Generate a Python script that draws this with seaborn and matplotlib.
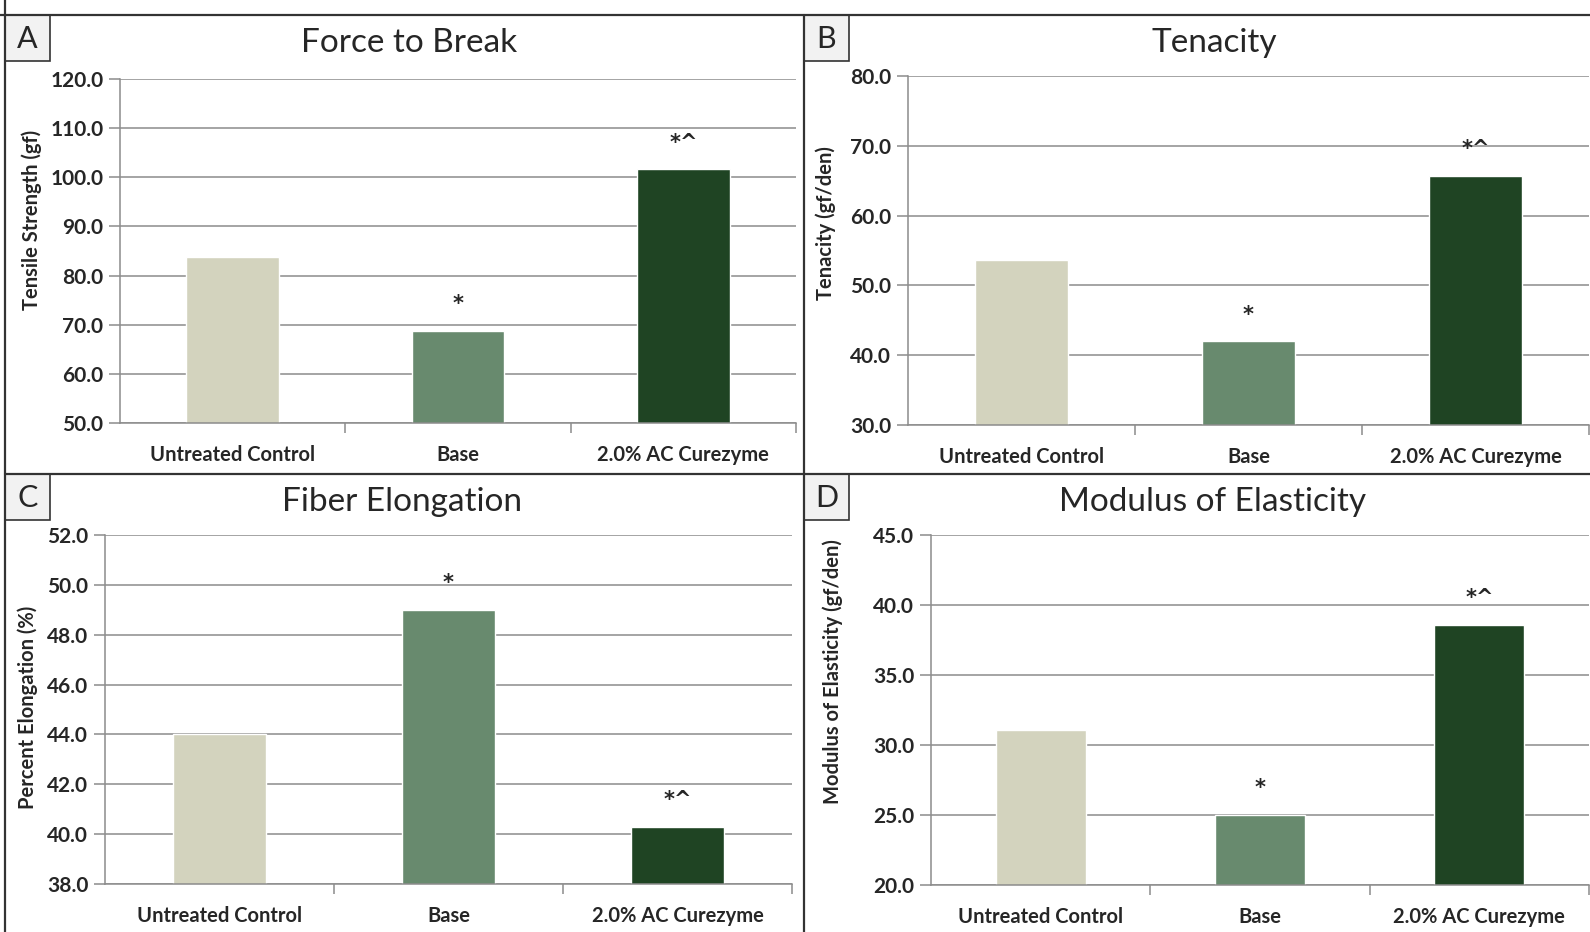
import matplotlib
matplotlib.use("Agg")
import matplotlib.pyplot as plt
import seaborn as sns
import pandas as pd
from matplotlib.lines import Line2D
from matplotlib.patches import Rectangle

# Data
categories = ["Untreated Control", "Base", "2.0% AC Curezyme"]
force_to_break = [83.8, 68.8, 101.6]
tenacity = [53.6, 42.0, 65.7]
elongation = [44.0, 49.0, 40.3]
modulus = [31.1, 25.0, 38.6]
marks = ["", "*", "*^"]
colors = ["#D3D3BE", "#688A6E", "#1F4423"]

sns.set_theme(style="white")
plt.rcParams['font.family'] = ['Lato', 'DejaVu Sans']

W, H = 1590, 932
fig = plt.figure(figsize=(W / 100, H / 100), dpi=100)


def px(x0, y0, x1, y1):
    return [x0 / W, 1 - y1 / H, (x1 - x0) / W, (y1 - y0) / H]


panels = [
    ("A", "Force to Break", "Tensile Strength (gf)", force_to_break, (50, 120, 10),
     px(120, 79, 796, 423), (409, 43), (5, 15), (-0.116, 0.59)),
    ("B", "Tenacity", "Tenacity (gf/den)", tenacity, (30, 80, 10),
     px(908, 76, 1589, 425), (1214, 43), (804, 15), (-0.106, 0.578)),
    ("C", "Fiber Elongation", "Percent Elongation (%)", elongation, (38, 52, 2),
     px(105, 535, 792, 884), (402, 502), (5, 474), (-0.097, 0.506)),
    ("D", "Modulus of Elasticity", "Modulus of Elasticity (gf/den)", modulus, (20, 45, 5),
     px(931, 535, 1589, 885), (1213, 502), (804, 474), (-0.133, 0.61)),
]

for letter, title, ylabel, vals, (lo, hi, step), rect, tpos, bpos, lpos in panels:
    ax = fig.add_axes(rect)
    df = pd.DataFrame({"cat": categories, "val": vals})
    sns.barplot(data=df, x="cat", y="val", hue="cat", palette=colors,
                legend=False, width=0.41, ax=ax, saturation=1)
    ax.set_ylim(lo, hi)
    ax.set_xlim(-0.5, 2.5)
    yt = [lo + step * i for i in range(int(round((hi - lo) / step)) + 1)]
    ax.set_yticks(yt)
    ax.set_yticklabels([f"{v:.1f}" for v in yt], fontsize=15, fontweight="bold")
    ax.yaxis.grid(True, color="#8C8C8C", linewidth=1.1)
    ax.set_axisbelow(True)
    ax.tick_params(axis="y", length=8, color="#8C8C8C", width=1.1, left=True, pad=4)
    ax.set_xticks([0, 1, 2])
    ax.set_xticklabels(categories, fontsize=14.5, fontweight="bold")
    ax.set_xticks([0.5, 1.5, 2.5], minor=True)
    ax.tick_params(axis="x", which="major", length=0, pad=16)
    ax.tick_params(axis="x", which="minor", length=7, color="#8C8C8C", width=1.1, bottom=True)
    ax.set_xlabel("")
    ax.set_ylabel(ylabel, fontsize=14.5, fontweight="bold")
    ax.yaxis.set_label_coords(*lpos)
    for s in ["top", "right"]:
        ax.spines[s].set_visible(False)
    for s in ["left", "bottom"]:
        ax.spines[s].set_color("#8C8C8C")
        ax.spines[s].set_linewidth(1.1)
    for i, (v, m) in enumerate(zip(vals, marks)):
        if m:
            ax.annotate(m, xy=(i, v), xytext=(0, 12), textcoords="offset points",
                        ha="center", va="bottom", fontsize=15, fontweight="bold",
                        family="DejaVu Sans")
    fig.text(tpos[0] / W, 1 - tpos[1] / H, title, ha="center", va="center", fontsize=24)
    bx, by = bpos
    fig.add_artist(Rectangle((bx / W, 1 - (by + 46) / H), 45 / W, 46 / H,
                             transform=fig.transFigure, facecolor="#F2F2F2",
                             edgecolor="#333333", linewidth=1.2))
    fig.text((bx + 22.5) / W, 1 - (by + 24) / H, letter, ha="center", va="center", fontsize=22)

# Panel dividers
line_kw = dict(color="#333333", linewidth=1.6, transform=fig.transFigure)
fig.add_artist(Line2D([0, 1], [1 - 15 / H] * 2, **line_kw))
fig.add_artist(Line2D([5 / W, 1], [1 - 474 / H] * 2, **line_kw))
fig.add_artist(Line2D([5 / W] * 2, [0, 1], **line_kw))
fig.add_artist(Line2D([804 / W] * 2, [0, 1 - 15 / H], **line_kw))

fig.savefig("out.png", dpi=100)
